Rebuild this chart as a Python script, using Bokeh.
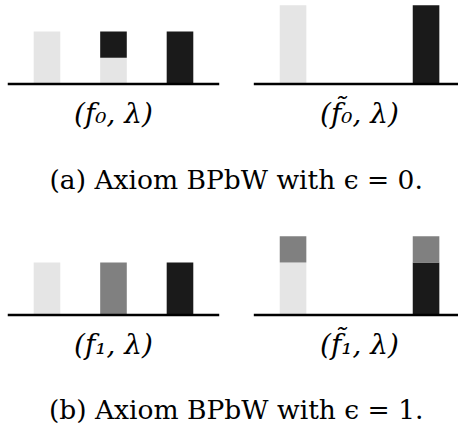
import numpy as np
from bokeh.plotting import figure
from bokeh.models import Range1d, ColumnDataSource
from bokeh.core.properties import value
from bokeh.embed import file_html
from bokeh.resources import INLINE

# ---- data ----
positions = [0, 1, 2]
series_names = ["light", "dark", "gray"]
series_colors = ["#e5e5e5", "#1a1a1a", "#808080"]

f0_light = [1.0, 0.5, 0.0]
f0_dark = [0.0, 0.5, 1.0]
f0_gray = [0.0, 0.0, 0.0]

ft0_light = [1.5, 0.0, 0.0]
ft0_dark = [0.0, 0.0, 1.5]
ft0_gray = [0.0, 0.0, 0.0]

f1_light = [1.0, 0.0, 0.0]
f1_dark = [0.0, 0.0, 1.0]
f1_gray = [0.0, 1.0, 0.0]

ft1_light = [1.0, 0.0, 0.0]
ft1_dark = [0.0, 0.0, 1.0]
ft1_gray = [0.5, 0.0, 0.5]

panel_labels = ["(f\u2080, \u03bb)", "(f\u0303\u2080, \u03bb)",
                "(f\u2081, \u03bb)", "(f\u0303\u2081, \u03bb)"]
captions = ["(a) Axiom BPbW with \u03f5 = 0.", "(b) Axiom BPbW with \u03f5 = 1."]

# ---- layout ----
X_OFF = [0.0, 3.7, 0.0, 3.7]
Y_OFF = [4.4, 4.4, 0.0, 0.0]
panels = [
    (f0_light, f0_dark, f0_gray),
    (ft0_light, ft0_dark, ft0_gray),
    (f1_light, f1_dark, f1_gray),
    (ft1_light, ft1_dark, ft1_gray),
]

p = figure(width=458, height=432, output_backend="svg", toolbar_location=None,
           x_range=Range1d(-0.699, 6.188), y_range=Range1d(-2.238, 5.99),
           min_border=0)
p.axis.visible = False
p.grid.visible = False
p.outline_line_color = None
p.background_fill_color = "white"
p.border_fill_color = "white"

for (xo, yo, series) in zip(X_OFF, Y_OFF, panels):
    x = np.array(positions, dtype=float) + xo
    bottom = np.zeros(3) + yo
    for vals, col in zip(series, series_colors):
        vals = np.array(vals)
        top = bottom + vals
        mask = vals > 0
        if mask.any():
            src = ColumnDataSource(dict(x=x[mask], bottom=bottom[mask], top=top[mask]))
            p.vbar(x="x", bottom="bottom", top="top", width=0.4, source=src,
                   fill_color=col, line_color=None)
        bottom = top
    p.segment(x0=[xo - 0.59], x1=[xo + 2.59], y0=[yo], y1=[yo],
              line_color="black", line_width=2.5)

# panel labels
p.text(x=[xo + 1 for xo in X_OFF], y=[yo - 0.57 for yo in Y_OFF], text=panel_labels,
       text_font=value("DejaVu Serif"), text_font_size="28px",
       text_font_style="italic",
       text_align="center", text_baseline="middle", text_color="black")

# captions
p.text(x=[2.845, 2.845], y=[4.4 - 1.81, -1.80], text=captions,
       text_font=value("DejaVu Serif"), text_font_size="26.5px",
       text_align="center", text_baseline="middle", text_color="black")

open("out.html", "w").write(file_html(p, INLINE))
